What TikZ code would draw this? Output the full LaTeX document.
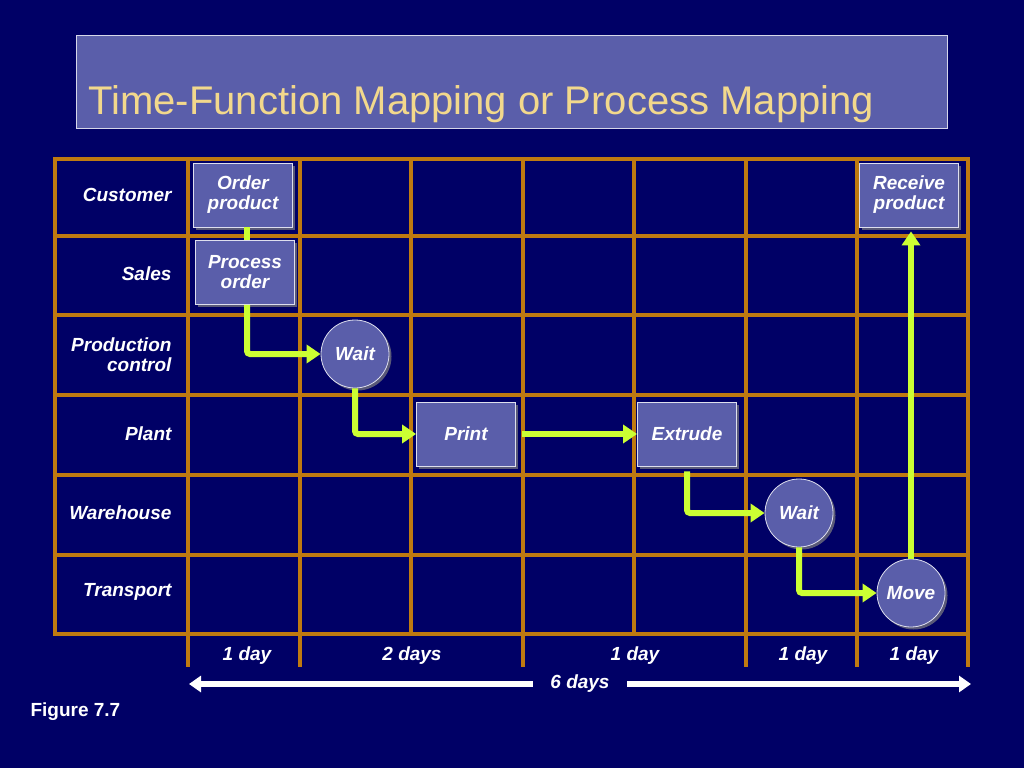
\documentclass[tikz,border=0pt]{standalone}
\usepackage{fontspec}
\setmainfont{Liberation Sans}
\usepackage{tikz}
\usetikzlibrary{arrows.meta,positioning,shadows}
\usepackage{xcolor}
\definecolor{navy}{HTML}{000066}
\definecolor{gridbrown}{HTML}{BF7A10}
\definecolor{boxblue}{HTML}{5A5EAA}
\definecolor{flowlime}{HTML}{CCFF33}
\definecolor{titlegold}{HTML}{F2D88C}

\begin{document}
\begin{tikzpicture}[
  x=1pt, y=-1pt,
  >=Stealth,
  task/.style={draw=white!80!boxblue, line width=0.8pt, fill=boxblue,
    minimum width=99pt, minimum height=64pt, align=center, text=white,
    font=\fontsize{19}{20}\selectfont\bfseries\itshape,
    drop shadow={opacity=0.7, shadow xshift=2.5pt, shadow yshift=-2.5pt}},
  waitstep/.style={task, circle, minimum size=68pt, inner sep=0pt},
  lane/.style={anchor=east, align=right, text=white,
    font=\fontsize{19}{20}\selectfont\bfseries\itshape},
  daylabel/.style={text=white, font=\fontsize{19}{20}\selectfont\bfseries\itshape},
  gridline/.style={gridbrown, line width=4pt},
  flow/.style={flowlime, line width=6pt, rounded corners=3pt},
  arrow/.style={flow, -{Triangle[length=14pt,width=18pt]}},
  span/.style={white, line width=6pt, -{Triangle[length=12pt,width=16pt]}}
]
% background and title
\useasboundingbox[fill=navy] (0,0) rectangle (1024,768);
\node[draw=white!75!boxblue, line width=0.8pt, fill=boxblue,
  minimum width=871pt, minimum height=93pt] (titlebox) at (511.5,81.5) {};
\node[anchor=base west, text=titlegold, font=\fontsize{40}{40}\selectfont]
  (title) at (85,114) {Time-Function Mapping or Process Mapping};

% grid
\foreach \x in {55,188,300,411,523,634,746,857,968}
  \draw[gridline] (\x,159) -- (\x,634);
\foreach \y in {159,236,315,395,475,555,634}
  \draw[gridline] (53,\y) -- (970,\y);
\foreach \x in {188,300,523,746,857,968}
  \draw[gridline] (\x,634) -- (\x,667);

% lanes
\node[lane] (customer) at (175,195) {Customer};
\node[lane] (sales) at (175,274) {Sales};
\node[lane] (prodctl) at (175,355) {Production\\control};
\node[lane] (plant) at (175,434) {Plant};
\node[lane] (warehouse) at (175,513) {Warehouse};
\node[lane] (transport) at (175,592) {Transport};

% steps
\node[task] (order) at (243,195) {Order\\product};
\node[task] (process) at (245,272.5) {Process\\order};
\node[waitstep] (wait1) at (355,354) {Wait};
\node[task] (print) at (466,434) {Print};
\node[task] (extrude) at (687,434) {Extrude};
\node[waitstep] (wait2) at (799,513) {Wait};
\node[waitstep] (move) at (911,593) {Move};
\node[task] (receive) at (909,195) {Receive\\product};

% flow
\draw[flow] ([xshift=4pt]order.south) -- ([xshift=2pt]process.north);
\draw[arrow] ([xshift=2pt]process.south) |- (wait1.west);
\draw[arrow] (wait1.south) |- (print.west);
\draw[arrow] ([xshift=6pt]print.east) -- (extrude.west);
\draw[arrow, shorten <=5pt] (extrude.south) |- (wait2.west);
\draw[arrow] (wait2.south) |- (move.west);
\draw[arrow] (move.north) -- ([yshift=-4pt]move.north |- receive.south);

% time line
\node[daylabel] (d1) at (247,656) {1 day};
\node[daylabel] (d2) at (412,656) {2 days};
\node[daylabel] (d3) at (635,656) {1 day};
\node[daylabel] (d4) at (803,656) {1 day};
\node[daylabel] (d5) at (914,656) {1 day};
\coordinate (spanL) at (189,684);
\coordinate (spanR) at (971,684);
\node[daylabel, minimum width=94pt] (total) at (580,684) {6 days};
\draw[span] (total.west) -- (spanL);
\draw[span] (total.east) -- (spanR);

\node[anchor=west, text=white, font=\fontsize{19}{20}\selectfont\bfseries]
  (figure) at (27,712) {Figure 7.7};
\end{tikzpicture}
\end{document}
